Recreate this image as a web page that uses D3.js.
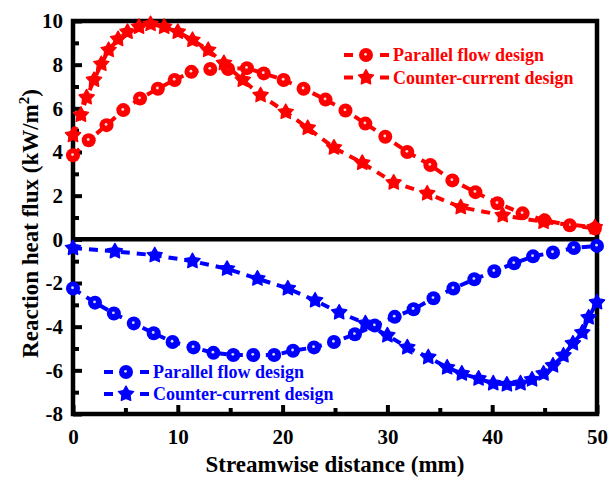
<!DOCTYPE html>
<html>
<head>
<meta charset="utf-8">
<script src="https://cdn.jsdelivr.net/npm/d3@7"></script>
<style>
  html, body { margin: 0; padding: 0; background: #fff; }
  svg { display: block; }
  svg text { font-family: "Liberation Serif", "Times New Roman", Times, "DejaVu Serif", serif !important; font-weight: bold; }
</style>
</head>
<body>
<svg id="chart" width="609" height="482"></svg>
<script>
// Streamwise distance (mm) and reaction heat flux (kW/m2)
const parallelPosX = [0, 1.5, 3.2, 4.8, 6.4, 8.1, 9.7, 11.3, 13.1, 14.8, 16.6, 18.2, 20.1, 22.0, 24.1, 26.0, 27.9, 29.8, 31.9, 34.1, 36.2, 38.4, 40.5, 42.9, 45.0, 47.4, 49.8];
const parallelPosY = [3.85, 4.54, 5.23, 5.92, 6.45, 6.9, 7.3, 7.67, 7.8, 7.8, 7.84, 7.6, 7.3, 6.9, 6.4, 5.9, 5.3, 4.7, 4.0, 3.4, 2.7, 2.16, 1.65, 1.19, 0.87, 0.64, 0.5];

const counterPosX = [0, 0.76, 1.3, 2.0, 2.7, 3.4, 4.3, 5.2, 6.3, 7.4, 8.7, 10, 11.4, 12.9, 14.4, 16.2, 17.9, 20.3, 22.4, 24.9, 27.6, 30.6, 33.8, 37, 41, 44.9, 49.8];
const counterPosY = [4.77, 5.7, 6.5, 7.3, 8.03, 8.67, 9.17, 9.5, 9.73, 9.86, 9.73, 9.5, 9.13, 8.67, 8.07, 7.3, 6.6, 5.83, 5.1, 4.2, 3.5, 2.6, 2.1, 1.47, 1.1, 0.8, 0.55];

const parallelNegX = [0, 2.1, 3.9, 5.8, 7.7, 9.5, 11.5, 13.4, 15.3, 17.2, 19.2, 21, 23, 24.9, 26.9, 28.8, 30.7, 32.5, 34.4, 36.3, 38.3, 40.2, 42.1, 43.9, 45.8, 47.8, 50];
const parallelNegY = [-2.25, -2.9, -3.4, -3.85, -4.3, -4.7, -4.95, -5.2, -5.3, -5.3, -5.3, -5.1, -4.95, -4.7, -4.35, -3.95, -3.55, -3.2, -2.7, -2.25, -1.83, -1.46, -1.1, -0.78, -0.6, -0.4, -0.3];

const counterNegX = [0, 4, 7.8, 11.4, 14.7, 17.6, 20.5, 23.1, 25.4, 27.9, 30, 31.9, 33.9, 35.7, 37.1, 38.7, 40.1, 41.4, 42.7, 43.8, 44.9, 45.8, 46.8, 47.7, 48.6, 49.2, 50];
const counterNegY = [-0.4, -0.55, -0.73, -1.0, -1.35, -1.8, -2.25, -2.8, -3.35, -3.85, -4.4, -4.95, -5.4, -5.87, -6.15, -6.38, -6.6, -6.65, -6.6, -6.42, -6.15, -5.78, -5.32, -4.77, -4.27, -3.58, -2.89];

const xMajorTicks = [0, 10, 20, 30, 40, 50];
const xMinorTicks = [5, 15, 25, 35, 45];
const yMajorTicks = [-8, -6, -4, -2, 0, 2, 4, 6, 8, 10];
const yMinorTicks = [-7, -5, -3, -1, 1, 3, 5, 7, 9];

const legendLabels = ["Parallel flow design", "Counter-current design"];
const xTitle = "Streamwise distance (mm)";

const RED = "#ff0000", BLUE = "#0000ff";

const svg = d3.select("#chart");
const plotLeft = 73, plotRight = 597, plotTop = 21, plotBottom = 414;

const x = d3.scaleLinear().domain([0, 50]).range([plotLeft, plotRight]);
const y = d3.scaleLinear().domain([-8, 10]).range([plotBottom, plotTop]);

function starPath(cx, cy, R, r) {
  const pts = [];
  for (let i = 0; i < 10; i++) {
    const a = -Math.PI / 2 + i * Math.PI / 5;
    const rr = i % 2 === 0 ? R : r;
    pts.push([cx + rr * Math.cos(a), cy + rr * Math.sin(a)]);
  }
  return "M" + pts.map(p => p[0].toFixed(2) + "," + p[1].toFixed(2)).join("L") + "Z";
}

// axes: ticks point into the plot
const axisStyle = g => {
  g.attr("font-family", null).attr("font-size", null);
  g.select(".domain").remove();
  g.selectAll(".tick line").attr("stroke", "#000").attr("stroke-width", 4);
  g.selectAll(".tick text").attr("fill", "#000").style("font-size", "21px");
};

svg.append("g").attr("transform", `translate(${plotLeft},0)`)
  .call(d3.axisLeft(y).tickValues(yMajorTicks).tickSize(-9).tickPadding(10).tickFormat(d => String(d)))
  .call(axisStyle);
svg.append("g").attr("transform", `translate(${plotLeft},0)`)
  .call(d3.axisLeft(y).tickValues(yMinorTicks).tickSize(-6).tickFormat(""))
  .call(axisStyle);
svg.append("g").attr("transform", `translate(0,${plotBottom})`)
  .call(d3.axisBottom(x).tickValues(xMajorTicks).tickSize(-9).tickPadding(15).tickFormat(d => String(d)))
  .call(axisStyle);
svg.append("g").attr("transform", `translate(0,${plotBottom})`)
  .call(d3.axisBottom(x).tickValues(xMinorTicks).tickSize(-6).tickFormat(""))
  .call(axisStyle);

// frame and zero line
svg.append("rect").attr("x", plotLeft).attr("y", plotTop)
  .attr("width", plotRight - plotLeft).attr("height", plotBottom - plotTop)
  .attr("fill", "none").attr("stroke", "#000").attr("stroke-width", 4.5);
svg.append("line").attr("x1", plotLeft).attr("x2", plotRight)
  .attr("y1", y(0)).attr("y2", y(0))
  .attr("stroke", "#000").attr("stroke-width", 4.5);

const line = d3.line().x(d => x(d[0])).y(d => y(d[1]));
const zip = (a, b) => a.map((v, i) => [v, b[i]]);

const series = [
  { data: zip(parallelPosX, parallelPosY), color: RED, shape: "circle" },
  { data: zip(counterPosX, counterPosY), color: RED, shape: "star" },
  { data: zip(parallelNegX, parallelNegY), color: BLUE, shape: "circle" },
  { data: zip(counterNegX, counterNegY), color: BLUE, shape: "star" }
];

// solid sphere with a small white highlight, or a filled five-point star
function drawMarker(g, shape, color, cx, cy) {
  if (shape === "circle") {
    g.append("circle").attr("cx", cx).attr("cy", cy).attr("r", 7).attr("fill", color);
    g.append("circle").attr("cx", cx - 0.5).attr("cy", cy - 0.7).attr("r", 1.4)
      .attr("fill", "#fff").attr("opacity", 0.85);
  } else {
    g.append("path").attr("d", starPath(cx, cy, 8, 4.3))
      .attr("fill", color).attr("stroke", color).attr("stroke-width", 1.3)
      .attr("stroke-linejoin", "round");
  }
}

series.forEach(s => {
  svg.append("path").datum(s.data).attr("d", line)
    .attr("fill", "none").attr("stroke", s.color).attr("stroke-width", 4)
    .attr("stroke-dasharray", "9,7");
  const g = svg.append("g");
  s.data.forEach(d => drawMarker(g, s.shape, s.color, x(d[0]), y(d[1])));
});

// legends
function legend(lx, ly, dy, color) {
  ["circle", "star"].forEach((shape, i) => {
    const yy = ly + i * dy;
    const g = svg.append("g");
    g.append("line").attr("x1", lx).attr("x2", lx + 9).attr("y1", yy).attr("y2", yy)
      .attr("stroke", color).attr("stroke-width", 4);
    g.append("line").attr("x1", lx + 36).attr("x2", lx + 45).attr("y1", yy).attr("y2", yy)
      .attr("stroke", color).attr("stroke-width", 4);
    drawMarker(g, shape, color, lx + 22, yy);
    g.append("text").attr("x", lx + 49).attr("y", yy + 6)
      .attr("fill", color).style("font-size", "18px").text(legendLabels[i]);
  });
}
legend(344, 55, 22.5, RED);
legend(104, 372, 22, BLUE);

// axis titles
svg.append("text").attr("x", 335).attr("y", 472)
  .attr("text-anchor", "middle").style("font-size", "23px").text(xTitle);

const yt = svg.append("text").attr("transform", `translate(38,${(plotTop + plotBottom) / 2 + 6}) rotate(-90)`)
  .attr("text-anchor", "middle").style("font-size", "23px");
yt.append("tspan").text("Reaction heat flux (kW/m");
yt.append("tspan").attr("dy", -9).style("font-size", "15px").text("2");
yt.append("tspan").attr("dy", 9).text(")");
</script>
</body>
</html>
